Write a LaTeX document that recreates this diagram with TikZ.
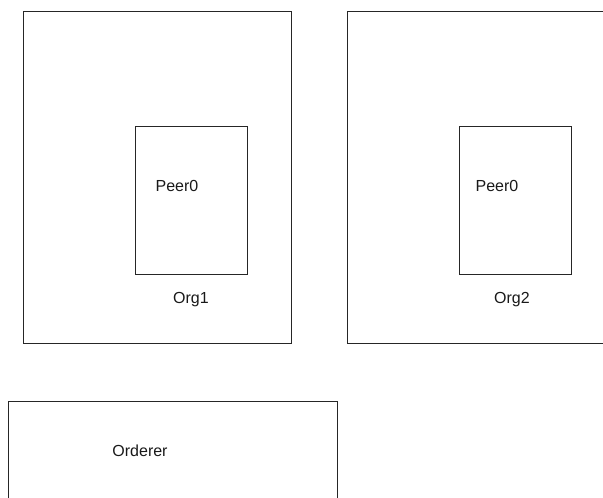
\documentclass[tikz,border=0pt]{standalone}
\usepackage{fontspec}
\setmainfont{Liberation Sans}
\usepackage{tikz}
\usetikzlibrary{positioning}
\tikzset{
  box/.style={rectangle, draw=black!85, line width=0.75pt, inner sep=0pt, anchor=north west},
  lbl/.style={font=\fontsize{12}{14}\selectfont, inner sep=0pt, text=black!90},
}

\begin{document}
\begin{tikzpicture}[x=0.75pt, y=-0.75pt]
  \useasboundingbox (0,0) rectangle (603,498);
  \clip (0,0) rectangle (603,498);
  % organisations
  \node[box, minimum width=268*0.75pt, minimum height=332*0.75pt] (org1) at (23,11) {};
  \node[box, minimum width=268*0.75pt, minimum height=332*0.75pt] (org2) at (347,11) {};
  % peers
  \node[box, minimum width=112*0.75pt, minimum height=148*0.75pt] (peer1) at (135,126) {};
  \node[box, minimum width=112*0.75pt, minimum height=148*0.75pt] (peer2) at (459,126) {};
  % orderer
  \node[box, minimum width=329*0.75pt, minimum height=120*0.75pt] (ord) at (8,401) {};
  \node[lbl] (peer1lbl) at (177,186) {Peer0};
  \node[lbl] (peer2lbl) at (497,186) {Peer0};
  \node[lbl] (org1lbl) at (191,300) {Org1};
  \node[lbl] (org2lbl) at (512,300) {Org2};
  \node[lbl] (ordlbl) at (140,451) {Orderer};
\end{tikzpicture}
\end{document}
